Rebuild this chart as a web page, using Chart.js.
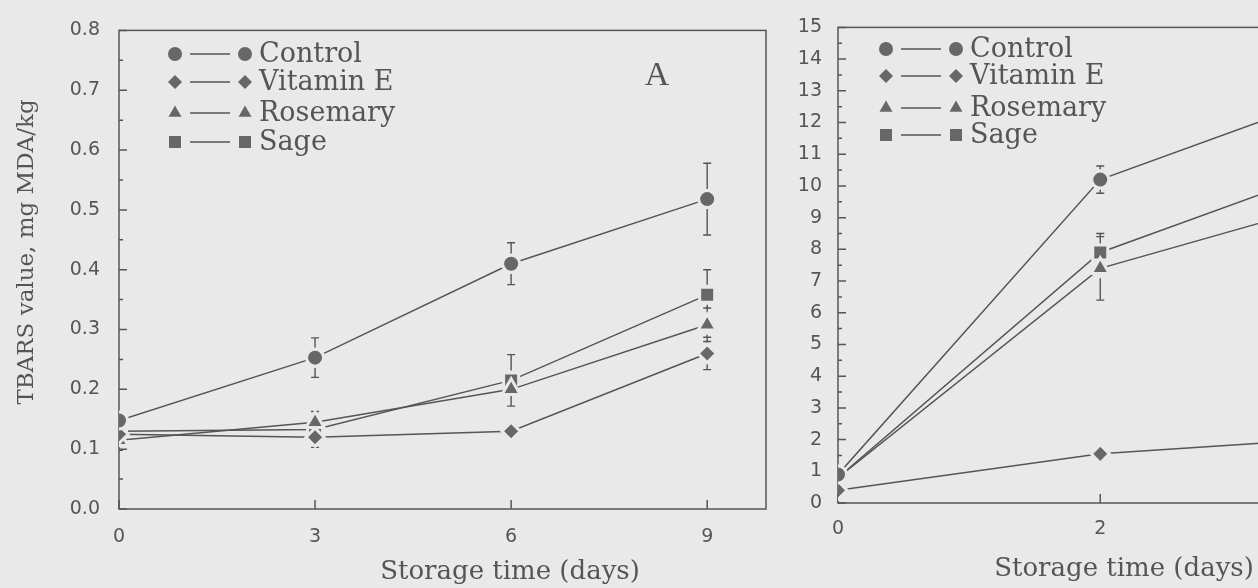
<!DOCTYPE html>
<html>
<head>
<meta charset="utf-8">
<script src="https://cdn.jsdelivr.net/npm/chart.js@4.4.1/dist/chart.umd.min.js"></script>
<style>
  body { margin: 0; background: #e9e9e9; overflow: hidden; }
  #wrap { position: relative; width: 1258px; height: 588px; overflow: hidden; }
  canvas { position: absolute; top: 0; }
</style>
</head>
<body>
<div id="wrap">
  <canvas id="panelA" width="790" height="588" style="left:0"></canvas>
  <canvas id="panelB" width="632" height="588" style="left:790px"></canvas>
</div>
<script>
// panel A (0-9 days)
const daysA = [0, 3, 6, 9];
const controlA = [0.148, 0.253, 0.41, 0.518];
const vitEA = [0.125, 0.12, 0.13, 0.26];
const rosemaryA = [0.115, 0.145, 0.2, 0.308];
const sageA = [0.13, 0.133, 0.215, 0.358];
const controlErrA = [0.008, 0.033, 0.035, 0.06];
const vitEErrA = [0.008, 0.017, 0.008, 0.027];
const rosemaryErrA = [0.017, 0.008, 0.028, 0.028];
const sageErrA = [0.008, 0.03, 0.043, 0.042];
const xTicksA = [0, 3, 6, 9];
const yTicksA = [0, 0.1, 0.2, 0.3, 0.4, 0.5, 0.6, 0.7, 0.8];

// panel B (cut off at the right edge)
const daysB = [0, 2, 4];
const controlB = [0.9, 10.2, 13.2];
const vitEB = [0.4, 1.55, 2.1];
const rosemaryB = [0.8, 7.4, 9.75];
const sageB = [0.8, 7.9, 10.9];
const controlErrB = [0.1, 0.43, 0.5];
const vitEErrB = [0.05, 0.08, 0.1];
const rosemaryErrB = [0.1, 1.0, 0.8];
const sageErrB = [0.1, 0.6, 0.7];
const xTicksB = [0, 2, 4];
const yTicksB = [0, 1, 2, 3, 4, 5, 6, 7, 8, 9, 10, 11, 12, 13, 14, 15];

const ink = "#555555";
const markFill = "#676767";
const paper = "#e9e9e9";
const serif = "'DejaVu Serif', serif";

// visible marker size, path radius (ring in paper colour gives the gap)
const markers = {
  circle: { r: 7, path: 8.5 },
  rectRot: { r: 7, path: 9.1 },
  triangle: { r: 7.5, path: 10.5 },
  rect: { r: 6, path: 10.6 },
};

function series(label, style, xs, ys, errs) {
  return {
    label,
    data: xs.map((x, i) => ({ x, y: ys[i] })),
    errors: errs,
    pointStyle: style,
    pointRadius: markers[style].path,
    pointHoverRadius: markers[style].path,
    pointBackgroundColor: markFill,
    pointBorderColor: paper,
    pointBorderWidth: 3,
    borderColor: ink,
    borderWidth: 1.5,
    tension: 0,
    fill: false,
  };
}

function drawMark(ctx, style, x, y) {
  const r = markers[style].r;
  ctx.beginPath();
  if (style === "circle") {
    ctx.arc(x, y, r, 0, Math.PI * 2);
  } else if (style === "rectRot") {
    ctx.moveTo(x, y - r); ctx.lineTo(x + r, y); ctx.lineTo(x, y + r); ctx.lineTo(x - r, y);
  } else if (style === "triangle") {
    ctx.moveTo(x, y - r);
    ctx.lineTo(x + r * 0.866, y + r * 0.5);
    ctx.lineTo(x - r * 0.866, y + r * 0.5);
  } else {
    ctx.rect(x - r, y - r, 2 * r, 2 * r);
  }
  ctx.closePath();
  ctx.fill();
}

// frame, inward ticks, error bars, legend and texts
const decor = {
  id: "decor",
  beforeDatasetsDraw(chart, args, o) {
    const { ctx, chartArea: a } = chart;
    const xs = chart.scales.x, ys = chart.scales.y;
    ctx.save();
    ctx.strokeStyle = ink;
    ctx.lineWidth = 1.5;
    ctx.strokeRect(a.left, a.top, a.right - a.left, a.bottom - a.top);
    ctx.beginPath();
    o.xMajor.forEach(v => {
      const px = xs.getPixelForValue(v);
      ctx.moveTo(px, a.bottom); ctx.lineTo(px, a.bottom - 9);
    });
    o.yMajor.forEach((v, i) => {
      const py = ys.getPixelForValue(v);
      ctx.moveTo(a.left, py); ctx.lineTo(a.left + 8, py);
      if (i < o.yMajor.length - 1) {
        const pm = ys.getPixelForValue((v + o.yMajor[i + 1]) / 2);
        ctx.moveTo(a.left, pm); ctx.lineTo(a.left + 4, pm);
      }
    });
    ctx.stroke();

    // error bars
    ctx.beginPath();
    ctx.rect(a.left, a.top, a.right - a.left, a.bottom - a.top);
    ctx.clip();
    ctx.lineWidth = 1.4;
    ctx.beginPath();
    chart.data.datasets.forEach((ds, i) => {
      chart.getDatasetMeta(i).data.forEach((pt, j) => {
        const e = ds.errors[j];
        const v = ds.data[j].y;
        const yt = ys.getPixelForValue(v + e), yb = ys.getPixelForValue(v - e);
        const gap = 10;
        if (pt.y - yt > 2) {
          if (pt.y - yt > gap) { ctx.moveTo(pt.x, yt); ctx.lineTo(pt.x, pt.y - gap); }
          ctx.moveTo(pt.x - 4, yt); ctx.lineTo(pt.x + 4, yt);
        }
        if (yb - pt.y > 2) {
          if (yb - pt.y > gap) { ctx.moveTo(pt.x, pt.y + gap); ctx.lineTo(pt.x, yb); }
          ctx.moveTo(pt.x - 4, yb); ctx.lineTo(pt.x + 4, yb);
        }
      });
    });
    ctx.stroke();
    ctx.restore();
  },
  afterDraw(chart, args, o) {
    const ctx = chart.ctx;
    ctx.save();
    ctx.fillStyle = markFill;
    ctx.strokeStyle = ink;
    ctx.lineWidth = 1.5;
    chart.data.datasets.forEach((ds, i) => {
      const x = o.legendX, y = o.legendY[i];
      ctx.fillStyle = markFill;
      drawMark(ctx, ds.pointStyle, x, y);
      drawMark(ctx, ds.pointStyle, x + 70, y);
      ctx.beginPath();
      ctx.moveTo(x + 15, y); ctx.lineTo(x + 55, y);
      ctx.stroke();
      ctx.fillStyle = ink;
      ctx.font = "27px " + serif;
      ctx.textAlign = "left";
      ctx.textBaseline = "middle";
      ctx.fillText(ds.label, x + 84, y + 1);
    });
    ctx.fillStyle = ink;
    ctx.textAlign = "center";
    ctx.textBaseline = "middle";
    ctx.font = "26px " + serif;
    ctx.fillText(o.xTitle.text, o.xTitle.x, o.xTitle.y);
    if (o.yTitle) {
      ctx.save();
      ctx.translate(o.yTitle.x, o.yTitle.y);
      ctx.rotate(-Math.PI / 2);
      ctx.font = "23px " + serif;
      ctx.fillText(o.yTitle.text, 0, 0);
      ctx.restore();
    }
    if (o.tag) {
      ctx.font = "34px 'Liberation Serif', serif";
      ctx.fillText(o.tag.text, o.tag.x, o.tag.y);
    }
    ctx.restore();
  },
};

function panel(id, cfg) {
  return new Chart(document.getElementById(id), {
    type: "line",
    data: { datasets: cfg.datasets },
    plugins: [decor],
    options: {
      responsive: false,
      animation: false,
      events: [],
      layout: { padding: cfg.padding },
      plugins: {
        legend: { display: false },
        tooltip: { enabled: false },
        decor: cfg.decor,
      },
      scales: {
        x: {
          type: "linear",
          min: 0,
          max: cfg.xMax,
          grid: { display: false, drawTicks: false },
          border: { display: false },
          afterBuildTicks: s => { s.ticks = cfg.xTicks.map(v => ({ value: v })); },
          afterFit: s => { s.height = cfg.xHeight; },
          ticks: {
            padding: cfg.xPad,
            color: ink,
            font: { family: "'DejaVu Sans', sans-serif", size: 19 },
            maxRotation: 0,
          },
        },
        y: {
          min: 0,
          max: cfg.yMax,
          grid: { display: false, drawTicks: false },
          border: { display: false },
          afterBuildTicks: s => { s.ticks = cfg.yTicks.map(v => ({ value: v })); },
          afterFit: s => { s.width = cfg.yWidth; },
          ticks: {
            padding: cfg.yPad,
            color: ink,
            font: { family: "'DejaVu Sans', sans-serif", size: 19 },
            callback: cfg.yFmt,
          },
        },
      },
    },
  });
}

panel("panelA", {
  datasets: [
    series("Control", "circle", daysA, controlA, controlErrA),
    series("Vitamin E", "rectRot", daysA, vitEA, vitEErrA),
    series("Rosemary", "triangle", daysA, rosemaryA, rosemaryErrA),
    series("Sage", "rect", daysA, sageA, sageErrA),
  ],
  padding: { top: 20, right: 24, left: 0, bottom: 0 },
  xMax: 9.9, xTicks: xTicksA, xHeight: 79, xPad: 17,
  yMax: 0.8, yTicks: yTicksA, yWidth: 119, yPad: 19,
  yFmt: v => Number(v).toFixed(1),
  decor: {
    xMajor: xTicksA, yMajor: yTicksA,
    legendX: 175, legendY: [54, 82, 113, 142],
    xTitle: { text: "Storage time (days)", x: 510, y: 572 },
    yTitle: { text: "TBARS value, mg MDA/kg", x: 27, y: 252 },
    tag: { text: "A", x: 657, y: 76 },
  },
});

panel("panelB", {
  datasets: [
    series("Control", "circle", daysB, controlB, controlErrB),
    series("Vitamin E", "rectRot", daysB, vitEB, vitEErrB),
    series("Rosemary", "triangle", daysB, rosemaryB, rosemaryErrB),
    series("Sage", "rect", daysB, sageB, sageErrB),
  ],
  padding: { top: 17, right: 12, left: 0, bottom: 0 },
  xMax: 4.35, xTicks: xTicksB, xHeight: 85, xPad: 15,
  yMax: 15, yTicks: yTicksB, yWidth: 48, yPad: 16,
  yFmt: v => String(v),
  decor: {
    xMajor: xTicksB, yMajor: yTicksB,
    legendX: 96, legendY: [49, 76, 108, 135],
    xTitle: { text: "Storage time (days)", x: 334, y: 569 },
  },
});
</script>
</body>
</html>
